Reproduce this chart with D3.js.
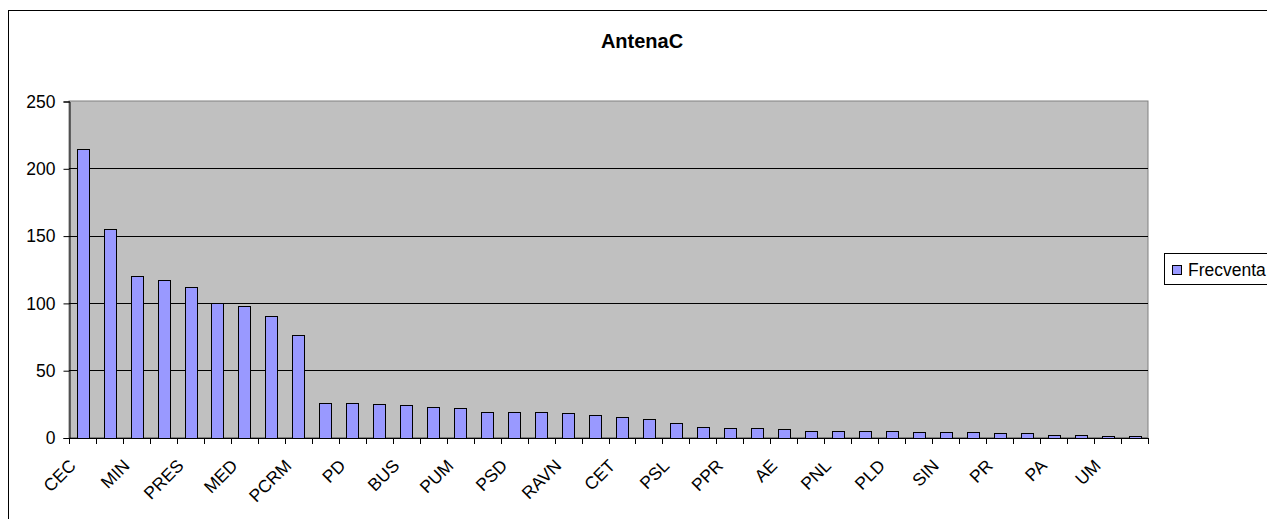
<!DOCTYPE html>
<html>
<head>
<meta charset="utf-8">
<script src="https://cdn.jsdelivr.net/npm/d3@7"></script>
<style>
  body { margin: 0; background: #fff; }
  text { font-family: Arial, "Liberation Sans", sans-serif; }
</style>
</head>
<body>
<div id="chart"></div>
<script>
// Data
const title = "AntenaC";
const seriesName = "Frecventa";
// only every other category carries a label on the axis
const categories = [
  "CEC", "", "MIN", "", "PRES", "", "MED", "", "PCRM", "",
  "PD", "", "BUS", "", "PUM", "", "PSD", "", "RAVN", "",
  "CET", "", "PSL", "", "PPR", "", "AE", "", "PNL", "",
  "PLD", "", "SIN", "", "PR", "", "PA", "", "UM", ""
];
const values = [
  214, 155, 120, 117, 112, 100, 98, 90, 76, 26,
  26, 25, 24, 23, 22, 19, 19, 19, 18, 17,
  15, 14, 11, 8, 7, 7, 6, 5, 5, 5,
  5, 4, 4, 4, 3, 3, 2, 2, 1, 1
];
const yTicks = [0, 50, 100, 150, 200, 250];

const WIDTH = 1267;
const HEIGHT = 519;

const plot = { left: 69, right: 1148, top: 101, bottom: 437.5 };

const svg = d3
  .select("#chart")
  .append("svg")
  .attr("width", WIDTH)
  .attr("height", HEIGHT);

// chart frame (runs off the right and bottom of the picture)
svg
  .append("rect")
  .attr("x", 8.5)
  .attr("y", 10.5)
  .attr("width", 1400)
  .attr("height", 700)
  .attr("fill", "#fff")
  .attr("stroke", "#000");

svg
  .append("text")
  .attr("x", 642)
  .attr("y", 48)
  .attr("text-anchor", "middle")
  .style("font-size", "20px")
  .style("font-weight", "bold")
  .text(title);

const x = d3
  .scaleBand()
  .domain(d3.range(categories.length))
  .range([plot.left, plot.right])
  .paddingInner(0.565)
  .paddingOuter(0.2825);

const y = d3
  .scaleLinear()
  .domain([0, 250])
  .range([plot.bottom, plot.top]);

// plot area
svg
  .append("rect")
  .attr("x", plot.left)
  .attr("y", plot.top)
  .attr("width", plot.right - plot.left)
  .attr("height", plot.bottom - plot.top)
  .attr("fill", "#c0c0c0")
  .attr("stroke", "#808080");

// gridlines
svg
  .append("g")
  .selectAll("line")
  .data(yTicks.filter(d => d > 0 && d < 250))
  .join("line")
  .attr("x1", plot.left)
  .attr("x2", plot.right)
  .attr("y1", d => Math.round(y(d)) + 0.5)
  .attr("y2", d => Math.round(y(d)) + 0.5)
  .attr("stroke", "#000");

// bars
svg
  .append("g")
  .selectAll("rect")
  .data(values)
  .join("rect")
  .attr("x", (d, i) => Math.round(x(i)) + 0.5)
  .attr("y", d => Math.round(y(d)) + 0.5)
  .attr("width", Math.round(x.bandwidth()))
  .attr("height", d => Math.round(plot.bottom) - Math.round(y(d)))
  .attr("fill", "#9999ff")
  .attr("stroke", "#000");

// y axis
const yAxis = svg
  .append("g")
  .attr("transform", `translate(${plot.left + 0.5}, 0.5)`)
  .call(d3.axisLeft(y).tickValues(yTicks).tickSize(6).tickPadding(8));
yAxis.select(".domain").attr("stroke", "#000");
yAxis.selectAll(".tick line").attr("stroke", "#000");
yAxis
  .selectAll("text")
  .style("font-size", "17.5px")
  .style("font-family", "Arial, 'Liberation Sans', sans-serif")
  .attr("fill", "#000");

// x axis: ticks sit between categories, labels at category centres
const step = x.step();
const gx = svg.append("g");
gx.append("line")
  .attr("x1", plot.left)
  .attr("x2", plot.right)
  .attr("y1", Math.round(plot.bottom) + 0.5)
  .attr("y2", Math.round(plot.bottom) + 0.5)
  .attr("stroke", "#000");
gx.selectAll(".tick")
  .data(d3.range(categories.length + 1))
  .join("line")
  .attr("class", "tick")
  .attr("x1", i => Math.round(plot.left + i * step) + 0.5)
  .attr("x2", i => Math.round(plot.left + i * step) + 0.5)
  .attr("y1", Math.round(plot.bottom))
  .attr("y2", Math.round(plot.bottom) + 6)
  .attr("stroke", "#000");

gx.selectAll(".lbl")
  .data(categories.map((c, i) => ({ c, i })).filter(d => d.c !== ""))
  .join("text")
  .attr("class", "lbl")
  .attr("text-anchor", "end")
  .attr("transform", d => {
    const cx = x(d.i) + x.bandwidth() / 2 - 10;
    return `translate(${cx}, ${plot.bottom + 25}) rotate(-45)`;
  })
  .attr("dy", "0.35em")
  .style("font-size", "17.5px")
  .text(d => d.c);

// legend
const legend = svg.append("g");
legend
  .append("rect")
  .attr("x", 1164.5)
  .attr("y", 253.5)
  .attr("width", 140)
  .attr("height", 31)
  .attr("fill", "#fff")
  .attr("stroke", "#000");
legend
  .append("rect")
  .attr("x", 1172.5)
  .attr("y", 265.5)
  .attr("width", 9)
  .attr("height", 9)
  .attr("fill", "#9999ff")
  .attr("stroke", "#000");
legend
  .append("text")
  .attr("x", 1188)
  .attr("y", 276)
  .style("font-size", "17.5px")
  .text(seriesName);
</script>
</body>
</html>
